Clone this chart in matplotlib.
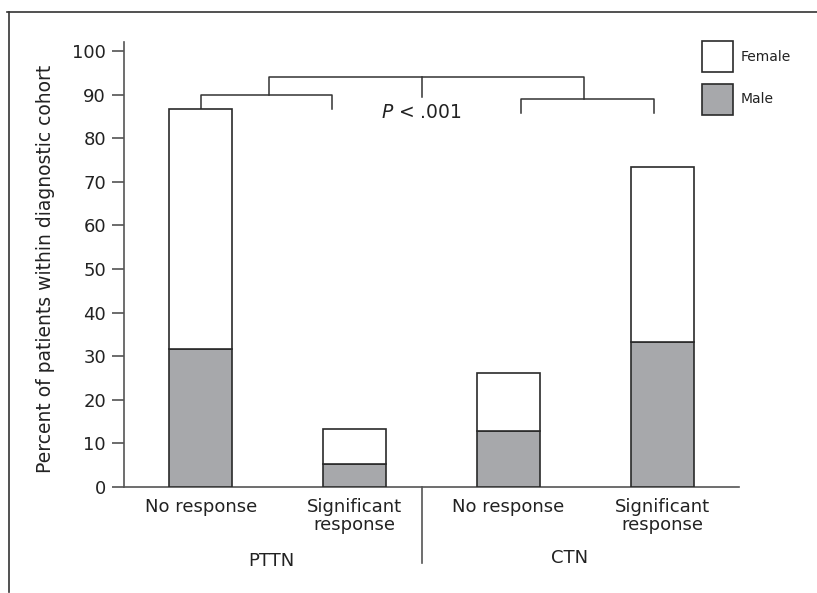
import numpy as np
import matplotlib.pyplot as plt
from matplotlib.lines import Line2D
from matplotlib.patches import Rectangle

categories = ['No response', 'Significant\nresponse', 'No response', 'Significant\nresponse']
groups = ['PTTN', 'CTN']
male = [31.7, 5.3, 12.9, 33.3]
total = [86.8, 13.2, 26.1, 73.5]
female = [t - m for t, m in zip(total, male)]
p_text = '$\\it{P}$ < .001'

fig = plt.figure(figsize=(8.17, 5.93), dpi=100, facecolor='w')
ax = fig.add_axes([0.1518, 0.1788, 0.7527, 0.7499])

x = np.arange(len(categories))
edge = '#2a2a2a'
male_c = '#a7a8ab'
txt = '#222222'
ax.bar(x, male, width=0.41, color=male_c, edgecolor=edge, linewidth=1.2, zorder=3)
ax.bar(x, female, width=0.41, bottom=male, color='white', edgecolor=edge, linewidth=1.2, zorder=3)

ax.set_xlim(-0.5, 3.5)
ax.set_ylim(0, 102)
ax.set_yticks(np.arange(0, 101, 10))
ax.set_xticks(x)
ax.set_xticklabels(categories, fontsize=13, color=txt, linespacing=1.0)
ax.tick_params(axis='x', length=0, pad=8)
ax.tick_params(axis='y', length=9, width=1.1, color='#444444', labelsize=13,
               labelcolor=txt, pad=4)
for s in ['top', 'right']:
    ax.spines[s].set_visible(False)
for s in ['left', 'bottom']:
    ax.spines[s].set_color('#555555')
    ax.spines[s].set_linewidth(1.2)
ax.set_ylabel('Percent of patients within diagnostic cohort', fontsize=13.5, color=txt)
ax.yaxis.set_label_coords(-0.112, 0.49)

# brackets
lc = '#333333'
lw = 1.1
ax.plot([0, 0, 0.85, 0.85], [86.8, 90.0, 90.0, 86.6], color=lc, lw=lw, clip_on=False)
ax.plot([2.08, 2.08, 2.95, 2.95], [85.8, 89.1, 89.1, 85.8], color=lc, lw=lw, clip_on=False)
ax.plot([0.44, 0.44, 2.49, 2.49], [90.0, 94.1, 94.1, 89.1], color=lc, lw=lw, clip_on=False)
ax.plot([1.435, 1.435], [94.1, 89.5], color=lc, lw=lw, clip_on=False)
ax.text(1.435, 85.8, p_text, ha='center', va='center', fontsize=13.5, color=txt)

# group separator and labels
ax.plot([1.435, 1.435], [0, -17.5], color='#555555', lw=1.2, clip_on=False)
ax.text(0.46, -17.0, groups[0], ha='center', va='center', fontsize=13, color=txt)
ax.text(2.4, -16.3, groups[1], ha='center', va='center', fontsize=13, color=txt)

# legend boxes drawn in figure coordinates
legend_items = [('Female', 'white', 0.8786, 0.9039), ('Male', male_c, 0.8061, 0.8330)]
for label, fc, yb, yt in legend_items:
    fig.add_artist(Rectangle((0.8592, yb), 0.0379, 0.0515, transform=fig.transFigure,
                             facecolor=fc, edgecolor=edge, linewidth=1.2))
    fig.text(0.907, yt, label, ha='left', va='center', fontsize=10, color=txt)

# outer frame lines
fig.add_artist(Line2D([0.009, 1.0], [0.98, 0.98], color='#333333', lw=1.2))
fig.add_artist(Line2D([0.011, 0.011], [0.98, 0.002], color='#333333', lw=1.2))

fig.savefig('out.png', dpi=100, facecolor='w')
